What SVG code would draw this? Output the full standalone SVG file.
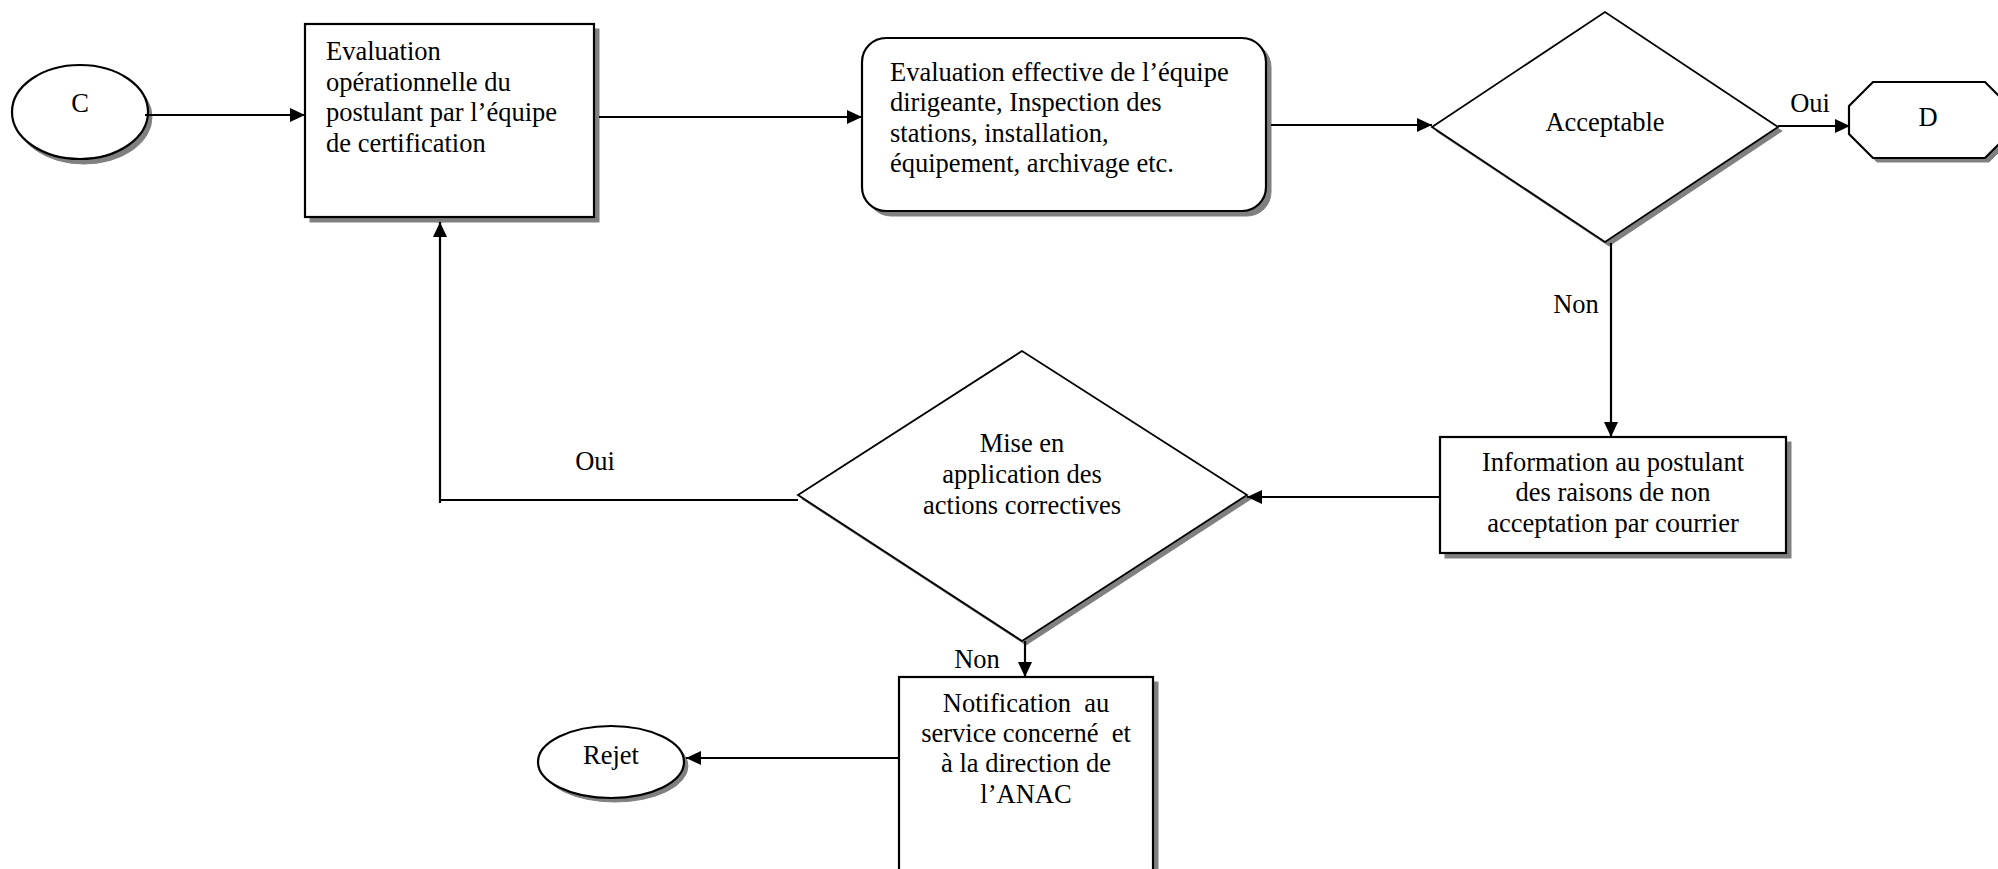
<svg xmlns="http://www.w3.org/2000/svg" width="1998" height="869" viewBox="0 0 1998 869">
<defs>
<marker id="ah" viewBox="0 0 15 14" refX="15" refY="7" markerWidth="15" markerHeight="14" markerUnits="userSpaceOnUse" orient="auto">
<path d="M0,0 L15,7 L0,14 z" fill="#000"/>
</marker>
</defs>
<style>
.shape{fill:#fff;stroke:#000;stroke-width:2.2}
.dia{fill:#fff;stroke:#000;stroke-width:1.8}
.sh{fill:#808080;stroke:#808080;stroke-width:1}
.t{font-family:"Liberation Serif","Times New Roman",serif;font-size:26.5px;fill:#000;white-space:pre}
.c{text-anchor:middle}
.con{fill:none;stroke:#000;stroke-width:2.2}
.arr{marker-end:url(#ah)}
</style>
<rect width="1998" height="869" fill="#fff"/>

<g id="node-c">
<ellipse class="sh" cx="84" cy="117" rx="68" ry="47"/>
<ellipse class="shape" cx="80" cy="112" rx="68" ry="47"/>
<text class="t c" x="80" y="112">C</text>
</g>

<g id="node-eval-op">
<rect class="sh" x="310" y="29" width="289" height="193"/>
<rect class="shape" x="305" y="24" width="289" height="193"/>
<text class="t" x="326" y="60">Evaluation</text>
<text class="t" x="326" y="90.5">opérationnelle du</text>
<text class="t" x="326" y="121">postulant par l’équipe</text>
<text class="t" x="326" y="151.5">de certification</text>
</g>

<g id="node-eval-eff">
<rect class="sh" x="867" y="43" width="404" height="173" rx="24" ry="24"/>
<rect class="shape" x="862" y="38" width="404" height="173" rx="24" ry="24"/>
<text class="t" x="890" y="81">Evaluation effective de l’équipe</text>
<text class="t" x="890" y="111">dirigeante, Inspection des</text>
<text class="t" x="890" y="141.5">stations, installation,</text>
<text class="t" x="890" y="172">équipement, archivage etc.</text>
</g>

<g id="node-acceptable">
<polygon class="sh" points="1436,131 1609,16 1782,131 1609,246"/>
<polygon class="dia" points="1432,127 1605,12 1778,127 1605,242"/>
<text class="t c" x="1605" y="131">Acceptable</text>
</g>

<g id="node-d">
<polygon class="sh" points="1853,110 1877,86 1989,86 2013,110 2013,138 1989,162 1877,162 1853,138"/>
<polygon class="shape" points="1849,106 1873,82 1985,82 2009,106 2009,134 1985,158 1873,158 1849,134"/>
<text class="t c" x="1928" y="126">D</text>
</g>

<g id="node-info">
<rect class="sh" x="1445" y="442" width="346" height="116"/>
<rect class="shape" x="1440" y="437" width="346" height="116"/>
<text class="t c" x="1613" y="471">Information au postulant</text>
<text class="t c" x="1613" y="501">des raisons de non</text>
<text class="t c" x="1613" y="532">acceptation par courrier</text>
</g>

<g id="node-mise">
<polygon class="sh" points="802,499 1026,355 1251,499 1026,645"/>
<polygon class="dia" points="798,495 1022,351 1247,495 1022,641"/>
<text class="t c" x="1022" y="452">Mise en</text>
<text class="t c" x="1022" y="483">application des</text>
<text class="t c" x="1022" y="513.5">actions correctives</text>
</g>

<g id="node-notif">
<rect class="sh" x="904" y="682" width="254" height="200"/>
<rect class="shape" x="899" y="677" width="254" height="200"/>
<text class="t c" x="1026" y="712" xml:space="preserve">Notification  au</text>
<text class="t c" x="1026" y="742" xml:space="preserve">service concerné  et</text>
<text class="t c" x="1026" y="772">à la direction de</text>
<text class="t c" x="1026" y="803">l’ANAC</text>
</g>

<g id="node-rejet">
<ellipse class="sh" cx="615" cy="766" rx="73" ry="36"/>
<ellipse class="shape" cx="611" cy="762" rx="73" ry="36"/>
<text class="t c" x="611" y="764">Rejet</text>
</g>

<g id="connectors">
<path class="con arr" d="M145,115 H305"/>
<path class="con arr" d="M599,117 H862"/>
<path class="con arr" d="M1271,125 H1432"/>
<path class="con arr" d="M1778,126 H1850"/>
<path class="con arr" d="M1611,243 V437"/>
<path class="con arr" d="M1440,497 H1247"/>
<path class="con arr" d="M798,500 H440 M440,503 V222"/>
<path class="con arr" d="M1025,641 V677"/>
<path class="con arr" d="M898,758 H686"/>
<text class="t c" x="1810" y="112">Oui</text>
<text class="t c" x="1576" y="313">Non</text>
<text class="t c" x="595" y="470">Oui</text>
<text class="t c" x="977" y="668">Non</text>
</g>
</svg>
